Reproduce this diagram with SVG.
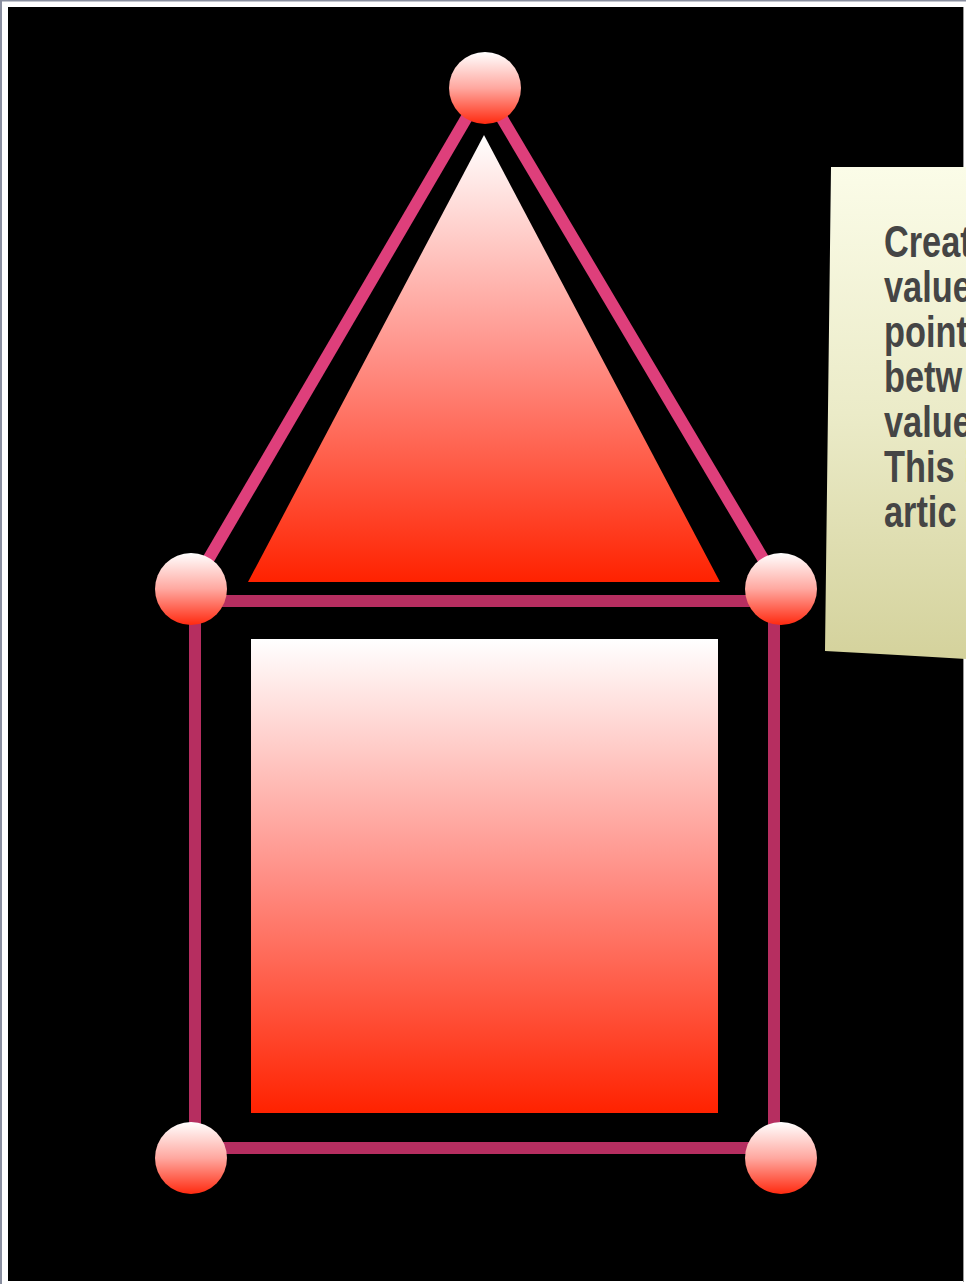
<svg xmlns="http://www.w3.org/2000/svg" width="966" height="1284" viewBox="0 0 966 1284">
  <defs>
    <linearGradient id="redGrad" x1="0" y1="0" x2="0" y2="1">
      <stop offset="0" stop-color="#FFFFFF"/>
      <stop offset="0.5" stop-color="#FF8F86"/>
      <stop offset="1" stop-color="#FF2200"/>
    </linearGradient>
    <linearGradient id="ballGrad" x1="0" y1="0" x2="0" y2="1">
      <stop offset="0" stop-color="#FFFFFF"/>
      <stop offset="0.5" stop-color="#FFA8A0"/>
      <stop offset="1" stop-color="#FF2A10"/>
    </linearGradient>
    <linearGradient id="noteGrad" x1="0" y1="0" x2="0" y2="1">
      <stop offset="0" stop-color="#FBFCE8"/>
      <stop offset="0.5" stop-color="#EBEBC8"/>
      <stop offset="1" stop-color="#D4D29C"/>
    </linearGradient>
    <style>
      .edgeA { stroke: #DE3F7B; stroke-width: 12; fill: none; }
      .edgeB { stroke: #B62E60; stroke-width: 12; fill: none; }
      .ball { fill: url(#ballGrad); }
      .shape { fill: url(#redGrad); }
      .noteText { font-family: "Liberation Sans", Arial, sans-serif; font-weight: bold; font-size: 44px; fill: #454545; }
    </style>
  </defs>

  <rect x="0" y="0" width="966" height="1284" fill="#FFFFFF"/>
  <rect x="0" y="0" width="966" height="1.5" fill="#8A8FA0"/>
  <rect x="0" y="0" width="2" height="1284" fill="#8A8FA0"/>
  <rect x="8" y="7" width="955" height="1274" fill="#000000"/>
  <rect x="963" y="7" width="1" height="1275" fill="#9A9A9A"/>

  <g id="shape-triangle">
    <polygon class="shape" points="484,135 720,582 248,582"/>
  </g>
  <g id="shape-square">
    <rect class="shape" x="251" y="639" width="467" height="474"/>
  </g>

  <g id="connectors">
    <line class="edgeA" x1="484" y1="88" x2="191" y2="589"/>
    <line class="edgeA" x1="484" y1="88" x2="781" y2="589"/>
    <line class="edgeB" x1="191" y1="601" x2="781" y2="601"/>
    <line class="edgeB" x1="195" y1="601" x2="195" y2="1148"/>
    <line class="edgeB" x1="774" y1="601" x2="774" y2="1148"/>
    <line class="edgeB" x1="191" y1="1148" x2="781" y2="1148"/>
  </g>

  <g id="node-top"><circle class="ball" cx="485" cy="88" r="36"/></g>
  <g id="node-mid-left"><circle class="ball" cx="191" cy="589" r="36"/></g>
  <g id="node-mid-right"><circle class="ball" cx="781" cy="589" r="36"/></g>
  <g id="node-bottom-left"><circle class="ball" cx="191" cy="1158" r="36"/></g>
  <g id="node-bottom-right"><circle class="ball" cx="781" cy="1158" r="36"/></g>

  <g id="note">
    <path d="M831,167 L966,167 L966,659 Q900,655 825,651 Z" fill="url(#noteGrad)"/>
    <g transform="translate(884,0) scale(0.78,1)">
      <text class="noteText" x="0" y="257">Creat</text>
      <text class="noteText" x="0" y="302">value</text>
      <text class="noteText" x="0" y="347">point</text>
      <text class="noteText" x="0" y="392">betw</text>
      <text class="noteText" x="0" y="437">value</text>
      <text class="noteText" x="0" y="482">This i</text>
      <text class="noteText" x="0" y="527">artic</text>
    </g>
  </g>
</svg>
